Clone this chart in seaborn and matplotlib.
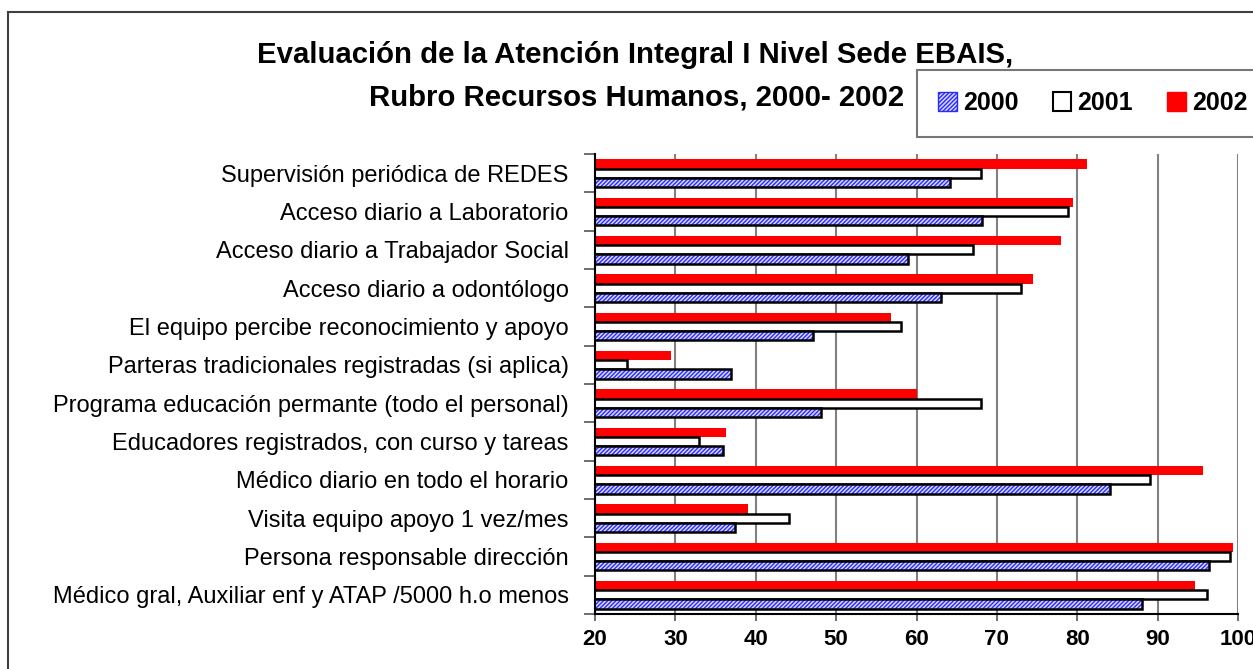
import pandas as pd
import seaborn as sns
import matplotlib.pyplot as plt
from matplotlib.patches import Rectangle, Patch

# Data
categories = [
    'Supervisión periódica de REDES',
    'Acceso diario a Laboratorio',
    'Acceso diario a Trabajador Social',
    'Acceso diario a odontólogo',
    'El equipo percibe reconocimiento y apoyo',
    'Parteras tradicionales registradas (si aplica)',
    'Programa educación permante (todo el personal)',
    'Educadores registrados, con curso y tareas',
    'Médico diario en todo el horario',
    'Visita equipo apoyo 1 vez/mes',
    'Persona responsable dirección',
    'Médico gral, Auxiliar enf y ATAP /5000 h.o menos',
]
years = ['2000', '2001', '2002']
values_2000 = [64.2, 68.2, 59.0, 63.0, 47.1, 36.9, 48.1, 35.9, 84.1, 37.4, 96.4, 88.1]
values_2001 = [68.0, 78.9, 67.0, 73.0, 58.1, 24.0, 68.0, 32.9, 89.1, 44.1, 99.0, 96.1]
values_2002 = [81.2, 79.5, 78.0, 74.5, 56.8, 29.5, 60.1, 36.3, 95.7, 39.0, 99.4, 94.7]
x_ticks = [20, 30, 40, 50, 60, 70, 80, 90, 100]

df = pd.DataFrame({
    'Rubro': categories * 3,
    'Año': ['2000'] * 12 + ['2001'] * 12 + ['2002'] * 12,
    'Valor': values_2000 + values_2001 + values_2002,
})

plt.rcParams['font.family'] = ['Liberation Sans', 'DejaVu Sans']
plt.rcParams['hatch.linewidth'] = 1.0

fig = plt.figure(figsize=(12.53, 6.69), dpi=100)
ax = fig.add_axes([0.4749, 0.0822, 0.5131, 0.6876])

# 2002 on top of each group, 2000 at the bottom
hue_order = ['2002', '2001', '2000']
sns.barplot(data=df, x='Valor', y='Rubro', hue='Año', hue_order=hue_order,
            order=categories, orient='h', width=0.72, ax=ax, legend=False, saturation=1,
            palette={'2002': 'red', '2001': 'white', '2000': 'white'})

hatch_face = '#d8d8ff'
hatch_col = '#2a2aff'

# style the bars per year
for cont, year in zip(ax.containers, hue_order):
    for bar in cont:
        if year == '2002':
            bar.set_edgecolor('red')
            bar.set_linewidth(0)
        elif year == '2001':
            bar.set_edgecolor('black')
            bar.set_linewidth(1.8)
        else:
            # blue hatch, then a black outline on top
            bar.set_facecolor(hatch_face)
            bar.set_hatch('////////')
            bar.set_edgecolor(hatch_col)
            bar.set_linewidth(0)
            outline = Rectangle(bar.get_xy(), bar.get_width(), bar.get_height(),
                                fill=False, edgecolor='black', linewidth=1.8, zorder=3)
            ax.add_patch(outline)

ax.set_xlim(20, 100)
ax.set_ylim(len(categories) - 0.5, -0.5)
ax.set_xticks(x_ticks)
ax.set_xticklabels([str(t) for t in x_ticks], fontsize=16, fontweight='bold')
ax.set_xlabel('')
ax.set_ylabel('')

# category labels centered, tick marks between groups
ax.set_yticks(range(len(categories)))
ax.set_yticklabels(categories, fontsize=17)
ax.set_yticks([i - 0.5 for i in range(len(categories) + 1)], minor=True)
ax.tick_params(axis='y', which='major', length=0, pad=19)
ax.tick_params(axis='y', which='minor', length=8, width=1.2, color='#555555')
ax.tick_params(axis='x', length=5, width=1.2, color='#555555', pad=6)

ax.grid(axis='x', color='#808080', linewidth=1.5)
ax.set_axisbelow(True)
for side in ['top', 'right']:
    ax.spines[side].set_visible(False)
ax.spines['left'].set_color('black')
ax.spines['left'].set_linewidth(1.5)
ax.spines['bottom'].set_color('black')
ax.spines['bottom'].set_linewidth(1.5)

# title
fig.text(0.507, 1 - 55 / 669, 'Evaluación de la Atención Integral I Nivel Sede EBAIS,',
         ha='center', va='center', fontsize=21.2, fontweight='bold')
fig.text(0.508, 1 - 97 / 669, 'Rubro Recursos Humanos, 2000- 2002',
         ha='center', va='center', fontsize=21.2, fontweight='bold')

# legend
handles = [
    Patch(facecolor=hatch_face, edgecolor=hatch_col, hatch='////////'),
    Patch(facecolor='white', edgecolor='black', linewidth=1.5),
    Patch(facecolor='red', edgecolor='red'),
]
leg = fig.legend(handles, years, loc='upper left', bbox_to_anchor=(917 / 1253, 1 - 70 / 669),
                 borderaxespad=0, ncol=3, frameon=True, fancybox=False,
                 handlelength=0.75, handleheight=0.75, handletextpad=0.25,
                 columnspacing=1.35, borderpad=0.85,
                 prop={'weight': 'bold', 'size': 18})
leg.get_frame().set_edgecolor('#555555')
leg.get_frame().set_linewidth(1.5)

# outer chart frame
fig.patches.append(Rectangle((8 / 1253, -0.1), 1.2, 1.1 - 12 / 669, transform=fig.transFigure,
                             fill=False, edgecolor='#404040', linewidth=1.5))

fig.savefig('out.png', dpi=100)
